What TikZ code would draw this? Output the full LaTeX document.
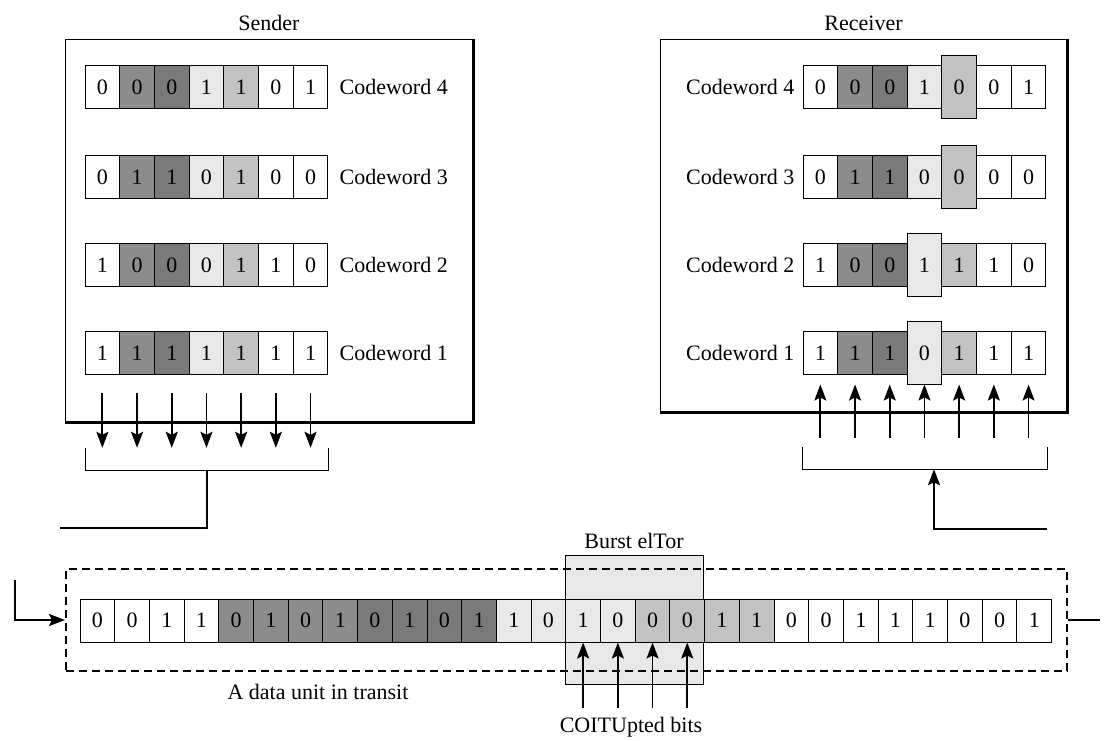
\documentclass[tikz,border=0pt]{standalone}
\usepackage{fontspec}
\setmainfont{Liberation Serif}
\usetikzlibrary{positioning, arrows.meta, calc}
\colorlet{cell0}{white}
\colorlet{cell1}{black!45}
\colorlet{cell2}{black!52}
\colorlet{cell3}{black!9}
\colorlet{cell4}{black!24}
\colorlet{cell5}{white}
\colorlet{cell6}{white}

\begin{document}
\begin{tikzpicture}[x=1pt, y=-1pt, every node/.style={font=\fontsize{22}{26}\selectfont},
  bit/.style={draw, line width=1pt, minimum width=34.7pt, minimum height=43pt, inner sep=0pt},
  frame/.style={draw, line width=1pt, inner sep=0pt},
  lbl/.style={inner sep=0pt},
  bitarrow/.style={-{Stealth[length=16pt, width=12pt, inset=3pt]}, line width=1.8pt},
  wire/.style={line width=2.4pt}]
\useasboundingbox (0,0) rectangle (1104,740);

% Sender frame
\node[frame, minimum width=408pt, minimum height=383pt] (sbox) at (269,230.5) {};
\draw[line width=3.5pt] (sbox.north east) -- (sbox.south east) -- (sbox.south west);
\node[lbl, above=8pt of sbox] (sname) {Sender};

% Receiver frame
\node[frame, minimum width=407pt, minimum height=373pt] (rbox) at (863.5,225.5) {};
\draw[line width=3.5pt] (rbox.north east) -- (rbox.south east) -- (rbox.south west);
\node[lbl, above=8pt of rbox] (rname) {Receiver};

% Codewords at the sender
\foreach \cw/\yy/\bits in {4/87/{0,0,0,1,1,0,1}, 3/177/{0,1,1,0,1,0,0}, 2/265/{1,0,0,0,1,1,0}, 1/353/{1,1,1,1,1,1,1}} {
  \foreach \v [count=\i from 0] in \bits
    \node[bit, fill=cell\i] (s\cw b\i) at (102.35+34.7*\i, \yy) {\v};
  \node[lbl, right=11pt of s\cw b6] {Codeword \cw};
}

% Codewords at the receiver (hit bit drawn taller)
\foreach \cw/\yy/\hh/\bits in {4/87/4/{0,0,0,1,0,0,1}, 3/177/4/{0,1,1,0,0,0,0}, 2/265/3/{1,0,0,1,1,1,0}, 1/353/3/{1,1,1,0,1,1,1}} {
  \foreach \v [count=\i from 0] in \bits
    \node[bit, fill=cell\i, minimum height={43+20*(\i==\hh)}] (r\cw b\i) at (820.35+34.7*\i, \yy) {\v};
  \node[lbl, left=8pt of r\cw b0] {Codeword \cw};
}

% Sender bracket
\node[lbl, minimum width=243pt, minimum height=22pt] (sbr) at (207,459) {};
\draw[line width=1pt] (sbr.north west) -- (sbr.south west) -- (sbr.south east) -- (sbr.north east);
\foreach \i in {0,...,6}
  \draw[bitarrow] ([yshift=-40pt]s1b\i.center) -- (sbr.north -| s1b\i);
\coordinate (sout) at (60,528);
\draw[wire] (sbr.south) |- (sout);

% Receiver bracket
\node[lbl, minimum width=244pt, minimum height=22pt] (rbr) at (925,458) {};
\draw[line width=1pt] (rbr.north west) -- (rbr.south west) -- (rbr.south east) -- (rbr.north east);
\foreach \i in {0,...,6}
  \draw[bitarrow] ([yshift=9pt]rbr.north -| r1b\i) -- ([yshift=-31.5pt]r1b\i.center);
\coordinate (rin) at (1047,529);
\draw[bitarrow, wire] (rin) -| ([xshift=9pt]rbr.south);

% Data unit in transit
\node[frame, fill=cell3, minimum width=138pt, minimum height=129pt] (burst) at (634,619.5) {};
\node[lbl, above=6pt of burst] (bname) {Burst elTor};
\node[draw, line width=2pt, dash pattern=on 8pt off 5pt, inner sep=0pt,
  minimum width=1001pt, minimum height=102pt] (unit) at (566.5,620) {};
\foreach \v [count=\i from 0] in {0,0,1,1,0,1,0,1,0,1,0,1,1,0,1,0,0,0,1,1,0,0,1,1,1,0,0,1} {
  \pgfmathtruncatemacro\g{\i<20 ? \i/4 : 5}
  \node[bit, fill=cell\g] (b\i) at (97.35+34.7*\i, 620.5) {\v};
}
\node[lbl] (uname) at (318,692) {A data unit in transit};

% Corrupted bits
\foreach \i in {14,...,17}
  \draw[bitarrow] ([yshift=-65pt]b\i.south) -- (b\i.south);
\node[lbl] (cname) at (631,727) {COITUpted bits};

% In and out of the link
\coordinate (lin) at (15,580);
\draw[bitarrow, wire] (lin) |- (unit.west);
\coordinate (rout) at (1100,620);
\draw[wire] (unit.east) -- (rout);
\end{tikzpicture}
\end{document}
